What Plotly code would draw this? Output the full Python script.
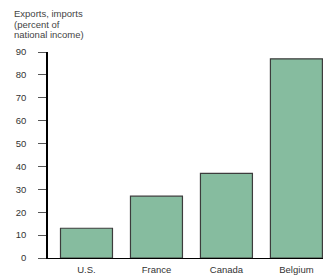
import plotly.graph_objects as go

countries = ["U.S.", "France", "Canada", "Belgium"]
trade_share = [13, 27, 37, 87]
y_ticks = [0, 10, 20, 30, 40, 50, 60, 70, 80, 90]
title_lines = ["Exports, imports", "(percent of", "national income)"]

W, H = 328, 275
L, R, T, B = 48, 5, 52, 16.5
plot_h = H - T - B

fig = go.Figure(go.Bar(
    x=countries, y=trade_share,
    marker=dict(color="#86BC9F", line=dict(color="#3c3c3c", width=1.2)),
))

annots = []
for txt, py in zip(title_lines, [13.5, 24, 34]):
    annots.append(dict(text=txt, xref="paper", yref="paper", x=(12 - L) / (W - L - R),
                       y=(H - B - py) / plot_h, xanchor="left", yanchor="middle",
                       showarrow=False, font=dict(size=9.5, color="#444")))

fig.update_layout(
    width=W, height=H,
    margin=dict(l=L, r=R, t=T, b=B, autoexpand=False),
    paper_bgcolor="white", plot_bgcolor="white",
    bargap=0.257,
    font=dict(family="Liberation Sans, Arial, sans-serif", size=10, color="#333"),
    showlegend=False,
    annotations=annots,
    xaxis=dict(range=[-0.55, 3.38], showline=True, linecolor="black", linewidth=1.3,
               ticks="", showgrid=False, tickfont=dict(size=9.5, color="#333"),
               ticklabelstandoff=2, automargin=False),
    yaxis=dict(range=[0, 90], tickvals=y_ticks, showline=True, linecolor="black",
               linewidth=1.5, ticks="outside", ticklen=8, tickcolor="#555", tickwidth=1,
               showgrid=False, zeroline=False, tickfont=dict(size=9.5, color="#333"),
               ticklabelstandoff=10, automargin=False),
)

fig.write_html("out.html", config={"displayModeBar": False},
               post_script="document.body.style.margin='0';document.body.style.overflow='hidden';")
